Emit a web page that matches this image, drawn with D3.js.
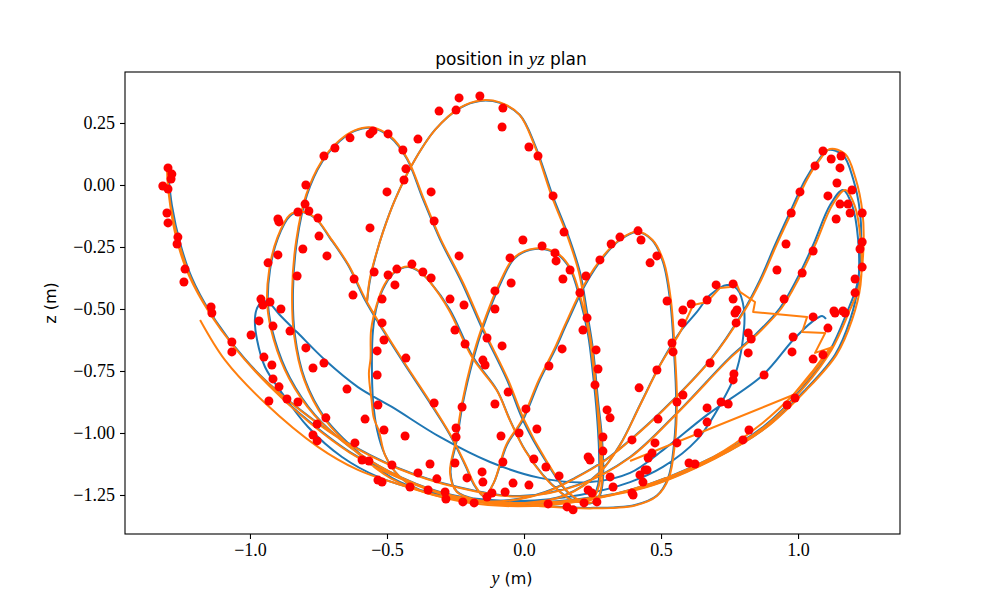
<!DOCTYPE html>
<html>
<head>
<meta charset="utf-8">
<script src="https://cdn.jsdelivr.net/npm/d3@7"></script>
<style>
  body { margin: 0; background: #fff; }
  .tick text { font-family: "Liberation Serif", serif; font-size: 18px; }
</style>
</head>
<body>
<script>
// true trajectory in the yz plane, [y, z] in metres
var truePath = [
  [-0.573,-0.472],[-0.562,-0.383],[-0.540,-0.282],[-0.515,-0.190],[-0.471,-0.060],[-0.409,0.081],
  [-0.325,0.222],[-0.234,0.310],[-0.161,0.339],[-0.088,0.331],[-0.015,0.282],[0.040,0.161],
  [0.106,-0.048],[0.157,-0.190],[0.204,-0.351],[0.230,-0.512],[0.252,-0.665],[0.270,-0.867],
  [0.285,-1.028],[0.288,-1.190],[0.274,-1.258],[0.240,-1.284],
  [0.168,-1.248],[0.077,-1.109],[-0.004,-0.948],[-0.062,-0.786],[-0.150,-0.585],[-0.226,-0.395],
  [-0.307,-0.218],[-0.369,-0.056],[-0.427,0.105],[-0.489,0.194],[-0.555,0.230],[-0.617,0.218],
  [-0.672,0.177],[-0.737,0.093],[-0.792,-0.040],[-0.828,-0.222],[-0.843,-0.423],[-0.836,-0.605],
  [-0.799,-0.786],[-0.726,-0.940],[-0.606,-1.077],[-0.482,-1.181],[-0.343,-1.242],[-0.197,-1.270],
  [-0.051,-1.270],[0.077,-1.238],[0.186,-1.181],[0.296,-1.109],[0.387,-1.028],[0.507,-0.907],
  [0.679,-0.706],[0.799,-0.512],[0.861,-0.383],[0.916,-0.242],[0.971,-0.109],[1.026,0.020],
  [1.069,0.093],[1.109,0.141],[1.164,0.121],[1.201,0.024],[1.226,-0.109],[1.230,-0.242],
  [1.215,-0.403],[1.179,-0.512],[1.117,-0.665],[1.018,-0.815],[0.872,-0.976],[0.690,-1.097],
  [0.387,-1.230],[0.131,-1.282],[-0.088,-1.286],[-0.270,-1.254],[-0.453,-1.181],[-0.635,-1.077],
  [-0.781,-0.956],[-0.927,-0.810],[-1.055,-0.653],[-1.146,-0.512],[-1.212,-0.375],[-1.255,-0.234],
  [-1.285,-0.081],[-1.299,0.052],
  [-1.292,-0.040],[-1.270,-0.190],[-1.230,-0.335],[-1.168,-0.472],[-1.080,-0.617],[-0.964,-0.766],
  [-0.825,-0.899],[-0.661,-1.028],[-0.460,-1.141],[-0.241,-1.218],[-0.015,-1.254],[0.204,-1.206],
  [0.387,-1.097],[0.569,-0.907],[0.752,-0.694],[0.843,-0.605],[0.934,-0.496],[0.996,-0.379],
  [1.055,-0.242],[1.117,-0.081],[1.164,-0.020],
  [1.197,-0.081],[1.219,-0.218],[1.219,-0.403],[1.190,-0.544],[1.135,-0.685],[1.026,-0.827],
  [0.880,-0.980],[0.697,-1.101],[0.442,-1.218],[0.168,-1.270],[-0.088,-1.278],[-0.307,-1.238],
  [-0.489,-1.157],[-0.635,-1.056],[-0.763,-0.927],[-0.854,-0.778],[-0.909,-0.625],[-0.934,-0.484],
  [-0.927,-0.343],[-0.898,-0.214],[-0.854,-0.125],[-0.818,-0.109],[-0.763,-0.133],[-0.708,-0.214],
  [-0.642,-0.323],[-0.580,-0.464],[-0.515,-0.585],[-0.434,-0.726],[-0.350,-0.867],[-0.270,-1.008],
  [-0.215,-1.129],[-0.179,-1.215],[-0.145,-1.255],
  [-0.110,-1.200],[-0.062,-1.048],[-0.004,-0.948],[0.058,-0.786],[0.113,-0.665],[0.157,-0.556],
  [0.223,-0.403],[0.296,-0.282],[0.350,-0.222],[0.412,-0.190],[0.467,-0.222],[0.507,-0.310],
  [0.533,-0.464],[0.547,-0.665],[0.555,-0.867],[0.547,-1.048],[0.526,-1.181],[0.485,-1.252],
  [0.405,-1.290],[0.241,-1.302],[0.022,-1.290],[-0.161,-1.270],[-0.245,-1.236],[-0.268,-1.160],
  [-0.245,-1.028],[-0.223,-0.879],[-0.186,-0.706],[-0.153,-0.585],[-0.080,-0.383],[-0.033,-0.294],
  [0.040,-0.258],[0.120,-0.278],[0.168,-0.339],[0.204,-0.460],[0.234,-0.605],[0.252,-0.766],
  [0.266,-0.927],[0.274,-1.089],[0.270,-1.210],[0.245,-1.266],
  [0.186,-1.274],[0.131,-1.236],[0.069,-1.169],[0.004,-1.069],[-0.051,-0.948],[-0.099,-0.827],
  [-0.186,-0.694],[-0.270,-0.504],[-0.343,-0.391],[-0.380,-0.351],[-0.423,-0.331],[-0.471,-0.351],
  [-0.507,-0.403],[-0.536,-0.484],[-0.551,-0.585],[-0.555,-0.706],[-0.551,-0.867],[-0.536,-0.988],
  [-0.507,-1.089],[-0.460,-1.169],[-0.380,-1.230],
  [-0.197,-1.274],[-0.015,-1.282],[0.150,-1.250],[0.277,-1.157],[0.350,-1.048],[0.423,-0.887],
  [0.496,-0.726],[0.569,-0.593],[0.631,-0.512],[0.679,-0.444],[0.741,-0.403],[0.777,-0.419],
  [0.803,-0.504],
  [0.796,-0.645],[0.770,-0.766],[0.726,-0.867],[0.631,-1.028],[0.507,-1.137],[0.387,-1.198],
  [0.204,-1.250],[-0.015,-1.274],[-0.234,-1.258],[-0.380,-1.230],[-0.533,-1.177],[-0.664,-1.097],
  [-0.788,-0.976],[-0.883,-0.839],[-0.945,-0.734],[-0.974,-0.625],[-0.982,-0.544],[-0.974,-0.496],
  [-0.956,-0.472],[-0.934,-0.472],[-0.891,-0.524],[-0.825,-0.597],[-0.726,-0.706],[-0.606,-0.815],
  [-0.482,-0.895],[-0.307,-1.016],[-0.124,-1.117],[0.058,-1.181],[0.241,-1.198],[0.387,-1.161],
  [0.507,-1.069],[0.668,-0.927],[0.872,-0.766],[0.982,-0.625],[1.051,-0.552],[1.088,-0.528],
  [1.102,-0.540]
];

// filter estimate, smooth part
var estPath = [
  [-0.573,-0.472],[-0.563,-0.380],[-0.540,-0.280],[-0.514,-0.188],[-0.470,-0.058],[-0.408,0.083],
  [-0.323,0.224],[-0.233,0.312],[-0.160,0.341],[-0.088,0.333],[-0.017,0.284],[0.037,0.163],
  [0.102,-0.048],[0.153,-0.190],[0.200,-0.351],[0.226,-0.512],[0.249,-0.665],[0.267,-0.867],
  [0.282,-1.028],[0.285,-1.190],[0.272,-1.256],[0.240,-1.282],
  [0.168,-1.246],[0.079,-1.107],[0.000,-0.946],[-0.058,-0.786],[-0.146,-0.585],[-0.222,-0.395],
  [-0.304,-0.218],[-0.366,-0.056],[-0.425,0.105],[-0.487,0.196],[-0.555,0.232],[-0.618,0.220],
  [-0.674,0.179],[-0.740,0.093],[-0.795,-0.040],[-0.831,-0.222],[-0.846,-0.423],[-0.839,-0.605],
  [-0.802,-0.786],[-0.730,-0.940],[-0.610,-1.079],[-0.486,-1.183],[-0.345,-1.244],[-0.197,-1.272],
  [-0.051,-1.272],[0.077,-1.240],[0.186,-1.183],[0.296,-1.111],[0.387,-1.030],[0.507,-0.909],
  [0.679,-0.708],[0.803,-0.510],[0.866,-0.381],[0.922,-0.240],[0.978,-0.107],[1.033,0.022],
  [1.076,0.097],[1.116,0.145],[1.172,0.125],[1.210,0.026],[1.235,-0.109],[1.239,-0.242],
  [1.224,-0.403],[1.186,-0.512],[1.122,-0.665],[1.022,-0.815],[0.874,-0.978],[0.690,-1.099],
  [0.387,-1.232],[0.131,-1.284],[-0.088,-1.288],[-0.270,-1.256],[-0.453,-1.183],[-0.636,-1.079],
  [-0.783,-0.958],[-0.930,-0.810],[-1.058,-0.653],[-1.149,-0.512],[-1.216,-0.375],[-1.259,-0.234],
  [-1.290,-0.081],[-1.303,0.056],
  [-1.296,-0.040],[-1.274,-0.190],[-1.234,-0.335],[-1.172,-0.472],[-1.083,-0.617],[-0.966,-0.766],
  [-0.827,-0.899],[-0.662,-1.030],[-0.460,-1.143],[-0.241,-1.220],[-0.015,-1.256],[0.204,-1.208],
  [0.387,-1.099],[0.569,-0.909],[0.756,-0.694],[0.848,-0.605],[0.940,-0.496],[1.002,-0.379],
  [1.062,-0.242],[1.125,-0.081],[1.172,-0.020],
  [1.206,-0.081],[1.228,-0.218],[1.228,-0.403],[1.197,-0.544],[1.140,-0.685],[1.030,-0.827],
  [0.882,-0.980],[0.697,-1.103],[0.442,-1.220],[0.168,-1.272],[-0.088,-1.280],[-0.307,-1.240],
  [-0.490,-1.157],[-0.636,-1.056],[-0.766,-0.927],[-0.858,-0.778],[-0.913,-0.625],[-0.937,-0.484],
  [-0.930,-0.343],[-0.900,-0.212],[-0.855,-0.121],[-0.818,-0.107],[-0.763,-0.131],[-0.706,-0.214],
  [-0.640,-0.323],[-0.577,-0.464],[-0.512,-0.585],[-0.431,-0.726],[-0.347,-0.867],[-0.268,-1.008],
  [-0.213,-1.129],[-0.177,-1.215],[-0.145,-1.255],
  [-0.110,-1.200],[-0.065,-1.048],[-0.008,-0.948],[0.054,-0.786],[0.109,-0.665],[0.153,-0.556],
  [0.219,-0.403],[0.294,-0.280],[0.350,-0.220],[0.412,-0.188],[0.469,-0.222],[0.510,-0.310],
  [0.536,-0.464],[0.550,-0.665],[0.558,-0.867],[0.550,-1.048],[0.528,-1.183],[0.485,-1.254],
  [0.405,-1.292],[0.241,-1.304],[0.022,-1.292],[-0.161,-1.272],[-0.245,-1.238],[-0.270,-1.160],
  [-0.248,-1.028],[-0.226,-0.879],[-0.190,-0.706],[-0.157,-0.585],[-0.084,-0.383],[-0.035,-0.292],
  [0.040,-0.256],[0.122,-0.276],[0.171,-0.339],[0.208,-0.460],[0.238,-0.605],[0.256,-0.766],
  [0.270,-0.927],[0.278,-1.089],[0.274,-1.210],[0.248,-1.268],
  [0.186,-1.276],[0.131,-1.238],[0.069,-1.171],[0.004,-1.071],[-0.051,-0.950],[-0.099,-0.829],
  [-0.190,-0.694],[-0.274,-0.504],[-0.345,-0.389],[-0.380,-0.349],[-0.423,-0.329],[-0.473,-0.351],
  [-0.510,-0.403],[-0.538,-0.484],[-0.558,-0.585],[-0.560,-0.700],[-0.566,-0.760],[-0.556,-0.870],
  [-0.548,-0.940],[-0.530,-0.990],[-0.507,-1.089],[-0.460,-1.169],[-0.380,-1.232],
  [-0.197,-1.276],[-0.015,-1.284],[0.150,-1.252],[0.277,-1.159],[0.350,-1.050],[0.423,-0.889],
  [0.496,-0.728],[0.569,-0.595],[0.617,-0.484]
];

// filter estimate, jumpy part (straight segments)
var estJumps = [
  [0.617,-0.484],[0.668,-0.472],[0.715,-0.415],[0.752,-0.411],[0.777,-0.403],[0.788,-0.431],
  [0.843,-0.472],[0.836,-0.512],[1.033,-0.532],[1.015,-0.593],[1.099,-0.597],[1.062,-0.677],
  [1.117,-0.657],[1.051,-0.754],[0.982,-0.847],[0.387,-1.113]
];

// filter estimate, last swing
var estSwing = [
  [1.124,-0.649],[1.062,-0.746],[0.989,-0.839],[0.861,-0.968],[0.690,-1.097],[0.387,-1.230],
  [0.095,-1.290],[-0.197,-1.282],[-0.471,-1.202],[-0.606,-1.149],[-0.752,-1.056],[-0.945,-0.879],
  [-1.091,-0.706],[-1.182,-0.544]
];

// noisy measurements
var measures = [
  [-1.299,0.069],[-1.285,0.044],[-1.288,0.024],[-1.318,-0.004],[-1.299,-0.016],[-1.303,-0.113],
  [-1.299,-0.153],[-1.263,-0.210],[-1.266,-0.238],[-1.237,-0.339],[-1.241,-0.391],[-1.142,-0.492],
  [-1.139,-0.516],[-1.066,-0.633],[-1.066,-0.673],[-0.898,-0.137],[-0.894,-0.149],[-0.934,-0.314],
  [-0.898,-0.282],[-0.825,-0.109],[-0.799,-0.077],[-0.785,-0.105],[-0.752,-0.133],[-0.748,-0.206],
  [-0.807,-0.258],[-0.719,-0.286],[-0.828,-0.367],[-0.620,-0.379],[-0.624,-0.444],[-0.960,-0.460],
  [-0.927,-0.472],[-0.887,-0.500],[-0.518,-0.460],[-0.496,-0.363],[-0.547,-0.351],[-0.562,-0.173],
  [-0.796,0.000],[-0.730,0.117],[-0.690,0.149],[-0.635,0.190],[-0.562,0.206],[-0.551,0.218],
  [-0.496,0.206],[-0.442,0.141],[-0.431,0.065],[-0.438,0.020],[-0.500,-0.028],[-0.339,-0.028],
  [-0.387,0.185],[-0.310,0.298],[-0.248,0.302],[-0.237,0.351],[-0.161,0.359],[-0.077,0.310],
  [-0.080,0.234],[0.018,0.153],[0.051,0.117],[0.106,-0.044],[0.146,-0.190],[-0.328,-0.145],
  [-0.237,-0.286],[-0.004,-0.222],[0.066,-0.246],[0.113,-0.274],[0.117,-0.306],[0.168,-0.343],
  [0.142,-0.379],[0.226,-0.367],[0.204,-0.435],[0.277,-0.302],[0.318,-0.238],[0.350,-0.210],
  [0.416,-0.185],[0.427,-0.222],[0.460,-0.314],[-0.051,-0.294],[-0.047,-0.395],[-0.106,-0.427],
  [-0.106,-0.500],[-0.409,-0.319],[-0.464,-0.339],[-0.471,-0.403],[-0.369,-0.351],[-0.339,-0.375],
  [-0.270,-0.460],[-0.219,-0.484],[0.485,-0.286],[0.522,-0.468],[0.580,-0.504],[0.610,-0.480],
  [0.701,-0.403],[0.763,-0.399],[0.763,-0.460],[0.777,-0.504],[0.668,-0.464],[0.923,-0.343],
  [0.956,-0.238],[0.975,-0.113],[1.007,-0.028],[1.062,0.077],[1.091,0.137],[1.121,0.105],
  [1.157,0.117],[1.153,0.069],[1.142,0.008],[1.109,-0.044],[1.153,-0.077],[1.182,-0.077],
  [1.190,-0.113],[1.234,-0.113],[1.139,-0.137],[1.055,-0.266],[1.015,-0.355],[0.949,-0.460],
  [1.234,-0.230],[1.226,-0.258],[1.234,-0.331],[1.208,-0.379],[1.208,-0.435],[1.131,-0.508],
  [1.164,-0.508],[1.197,-0.020],[-0.967,-0.548],[-0.996,-0.605],[-0.916,-0.569],[-0.854,-0.589],
  [-0.949,-0.694],[-0.920,-0.726],[-0.916,-0.782],[-0.894,-0.814],[-0.931,-0.871],[-0.865,-0.863],
  [-0.825,-0.875],[-0.796,-0.657],[-0.770,-0.738],[-0.730,-0.718],[-0.646,-0.823],[-0.723,-0.939],
  [-0.755,-0.964],[-0.770,-1.008],[-0.755,-1.032],[-0.617,-1.040],[-0.580,-0.944],[-0.591,-1.109],
  [-0.566,-1.113],[-0.533,-1.190],[-0.518,-1.198],[-0.482,-1.129],[-0.518,-0.556],[-0.511,-0.625],
  [-0.536,-0.669],[-0.536,-0.766],[-0.533,-0.887],[-0.511,-0.988],[-0.953,-0.484],[-0.252,-0.585],
  [-0.215,-0.641],[-0.135,-0.617],[-0.080,-0.649],[-0.150,-0.706],[-0.142,-0.726],[0.139,-0.661],
  [0.230,-0.536],[0.215,-0.585],[0.263,-0.665],[0.270,-0.742],[0.259,-0.806],[0.091,-0.730],
  [-0.058,-0.835],[-0.431,-0.698],[-0.328,-0.879],[-0.226,-0.895],[-0.106,-0.883],[0.007,-0.903],
  [0.047,-0.984],[-0.018,-1.000],[-0.084,-1.012],[-0.248,-0.980],[-0.248,-1.016],[-0.434,-1.012],
  [0.303,-0.907],[0.314,-0.939],[0.288,-1.016],[0.288,-1.073],[0.234,-1.097],[0.241,-1.109],
  [0.420,-0.818],[0.394,-1.028],[0.036,-1.105],[-0.077,-1.117],[0.080,-1.137],[0.128,-1.173],
  [-0.252,-1.121],[-0.153,-1.157],[-0.150,-1.198],[-0.343,-1.125],[-0.387,-1.161],[-0.318,-1.185],
  [-0.208,-1.181],[-0.040,-1.202],[0.018,-1.210],[-0.069,-1.238],[-0.117,-1.242],[-0.288,-1.238],
  [-0.350,-1.230],[-0.416,-1.218],[-0.223,-1.278],[-0.285,-1.266],[-0.182,-1.282],[-0.135,-1.258],
  [0.088,-1.286],[0.157,-1.298],[0.179,-1.310],[0.219,-1.282],[0.266,-1.278],[0.248,-1.242],
  [0.314,-1.177],[0.325,-1.218],[0.394,-1.242],[0.453,-1.101],[0.449,-1.149],[0.434,-1.198],
  [0.234,-1.230],[0.577,-0.556],[0.540,-0.637],[0.544,-0.673],[0.485,-0.746],[0.679,-0.718],
  [0.770,-0.516],[0.774,-0.556],[0.818,-0.597],[0.829,-0.621],[0.818,-0.677],[0.766,-0.762],
  [0.763,-0.786],[0.668,-0.899],[0.668,-0.956],[0.719,-0.875],[0.745,-0.883],[0.580,-0.847],
  [0.558,-0.875],[0.489,-0.944],[0.635,-1.000],[0.558,-1.040],[0.478,-1.040],[0.467,-1.081],
  [0.602,-1.121],[0.624,-1.125],[0.442,-1.149],[0.423,-1.169],[0.398,-1.250],[1.055,-0.532],
  [0.982,-0.613],[0.978,-0.673],[1.055,-0.702],[1.091,-0.685],[1.109,-0.577],[1.135,-0.516],
  [1.172,-0.516],[0.876,-0.766],[0.960,-0.887],[0.989,-0.859],[0.821,-0.988],[0.799,-1.028]
];

var xTicks = [-1.0, -0.5, 0.0, 0.5, 1.0];
var yTicks = [0.25, 0.0, -0.25, -0.5, -0.75, -1.0, -1.25];

var width = 1000;
var height = 600;
var plot = {left: 125, right: 900, top: 72, bottom: 534};

var svg = d3.select('body').append('svg')
  .attr('width', width)
  .attr('height', height);

var x = d3.scaleLinear().domain([-1.456, 1.372]).range([plot.left, plot.right]);
var y = d3.scaleLinear().domain([-1.4073, 0.4556]).range([plot.bottom, plot.top]);

svg.append('clipPath').attr('id', 'area')
  .append('rect')
    .attr('x', plot.left).attr('y', plot.top)
    .attr('width', plot.right - plot.left).attr('height', plot.bottom - plot.top);

var smooth = d3.line()
  .x(function(d) { return x(d[0]); })
  .y(function(d) { return y(d[1]); })
  .curve(d3.curveCatmullRom.alpha(0.5));

var straight = d3.line()
  .x(function(d) { return x(d[0]); })
  .y(function(d) { return y(d[1]); });

var g = svg.append('g').attr('clip-path', 'url(#area)');

g.append('path').attr('d', smooth(truePath))
  .attr('fill', 'none').attr('stroke', '#1f77b4').attr('stroke-width', 2);

g.append('path').attr('d', smooth(estPath))
  .attr('fill', 'none').attr('stroke', '#ff7f0e').attr('stroke-width', 2);
g.append('path').attr('d', straight(estJumps))
  .attr('fill', 'none').attr('stroke', '#ff7f0e').attr('stroke-width', 2)
  .attr('stroke-linejoin', 'round');
g.append('path').attr('d', smooth(estSwing))
  .attr('fill', 'none').attr('stroke', '#ff7f0e').attr('stroke-width', 2);

g.selectAll('.meas').data(measures).enter().append('circle')
  .attr('class', 'meas')
  .attr('cx', function(d) { return x(d[0]); })
  .attr('cy', function(d) { return y(d[1]); })
  .attr('r', 4.5)
  .attr('fill', '#ff0000');

// frame
svg.append('rect')
  .attr('x', plot.left).attr('y', plot.top)
  .attr('width', plot.right - plot.left).attr('height', plot.bottom - plot.top)
  .attr('fill', 'none').attr('stroke', '#000').attr('stroke-width', 1.1);

var xAxis = svg.append('g')
  .attr('transform', 'translate(0,' + plot.bottom + ')')
  .call(d3.axisBottom(x).tickValues(xTicks).tickSize(5).tickPadding(4)
    .tickFormat(d3.format('.1f')));
var yAxis = svg.append('g')
  .attr('transform', 'translate(' + plot.left + ',0)')
  .call(d3.axisLeft(y).tickValues(yTicks).tickSize(5).tickPadding(5)
    .tickFormat(d3.format('.2f')));

[xAxis, yAxis].forEach(function(a) {
  a.select('.domain').remove();
  a.selectAll('.tick line').attr('stroke', '#000').attr('stroke-width', 1.1);
  a.selectAll('.tick text').attr('fill', '#000');
});

// title and axis labels
var title = svg.append('text')
  .attr('x', 511).attr('y', 65)
  .attr('text-anchor', 'middle')
  .style('font-family', 'DejaVu Sans, sans-serif')
  .style('font-size', '17px');
title.append('tspan').text('position in ');
title.append('tspan').text('yz')
  .style('font-family', 'Liberation Serif, serif').style('font-style', 'italic')
  .style('font-size', '19px');
title.append('tspan').text(' plan');

var xl = svg.append('text')
  .attr('x', 512).attr('y', 584)
  .attr('text-anchor', 'middle')
  .style('font-family', 'DejaVu Sans, sans-serif')
  .style('font-size', '16px');
xl.append('tspan').text('y')
  .style('font-family', 'Liberation Serif, serif').style('font-style', 'italic')
  .style('font-size', '18px');
xl.append('tspan').text(' (m)');

svg.append('text')
  .attr('transform', 'translate(56,303) rotate(-90)')
  .attr('text-anchor', 'middle')
  .style('font-family', 'DejaVu Sans, sans-serif')
  .style('font-size', '16px')
  .text('z (m)');
</script>
</body>
</html>
